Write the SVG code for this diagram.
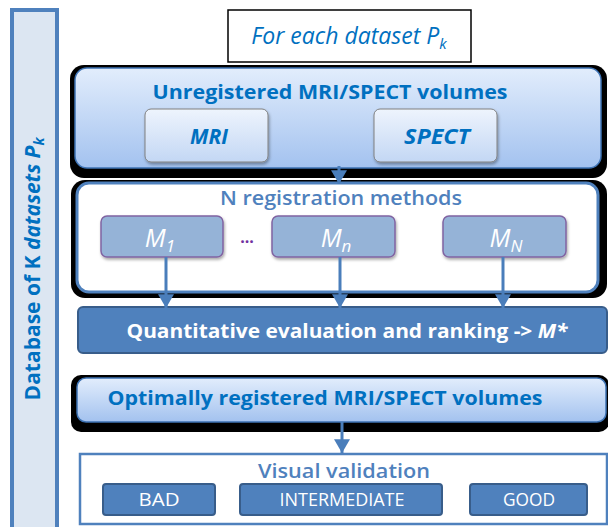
<svg xmlns="http://www.w3.org/2000/svg" width="608" height="527" viewBox="0 0 608 527">
<style>
.f{font-family:"Open Sans","Liberation Sans",sans-serif}
.t1{fill:#0070c0;font-weight:bold}
.t2{fill:#4f81bd;font-weight:600}
.wh{fill:#ffffff}
.shadow{fill:#000000}
.grad{fill:url(#g1);stroke:#3e73b4;stroke-width:1.5}
.inner{fill:url(#g2);stroke:#808080;stroke-width:1}
.mbox{fill:#95b3d7;stroke:#8064a2;stroke-width:1.5}
.dark{fill:#4f81bd;stroke:#385d8a;stroke-width:2}
.conn{stroke:#4a7ebb;stroke-width:3;fill:none}
</style>
<defs>
<linearGradient id="g1" x1="0" y1="0" x2="0" y2="1">
<stop offset="0" stop-color="#e2edfc"/>
<stop offset="1" stop-color="#a3c2ef"/>
</linearGradient>
<linearGradient id="g2" x1="0" y1="0" x2="0" y2="1">
<stop offset="0" stop-color="#eef4fd"/>
<stop offset="1" stop-color="#c3d7f4"/>
</linearGradient>
<filter id="ds" x="-10%" y="-10%" width="130%" height="140%">
<feDropShadow dx="1" dy="2" stdDeviation="1.5" flood-color="#000" flood-opacity="0.35"/>
</filter>
<marker id="ah" markerUnits="userSpaceOnUse" markerWidth="14" markerHeight="16" refX="12" refY="7" orient="auto" viewBox="0 0 12 14">
<path d="M0,0 L12,7 L0,14 Z" fill="#4a7ebb"/>
</marker>
</defs>

<g id="database">
<rect x="12" y="10" width="45" height="520" fill="#dce6f2" stroke="#4f81bd" stroke-width="4"/>
<text class="f t1" font-size="21" transform="translate(40,269) rotate(-90)" text-anchor="middle">Database of K <tspan font-style="italic">datasets P</tspan><tspan font-style="italic" font-size="14" dy="4">k</tspan></text>
</g>

<g id="foreach">
<rect x="228" y="10" width="243" height="52" fill="#ffffff" stroke="#000000" stroke-width="1.5"/>
<text class="f" fill="#0070c0" font-style="italic" font-size="23" x="349" y="44" text-anchor="middle">For each dataset P<tspan font-size="15" dy="5">k</tspan></text>
</g>

<g id="unregistered">
<rect class="shadow" x="70" y="65" width="537" height="113" rx="14"/>
<rect class="grad" x="75" y="68" width="526" height="100" rx="12"/>
<text class="f t1" font-size="20" x="330" y="99" text-anchor="middle" textLength="355" lengthAdjust="spacingAndGlyphs">Unregistered MRI/SPECT volumes</text>
</g>
<g id="mri">
<rect class="inner" x="145" y="109" width="123" height="53" rx="6" filter="url(#ds)"/>
<text class="f t1" font-style="italic" font-size="21" x="209" y="144" text-anchor="middle">MRI</text>
</g>
<g id="spect">
<rect class="inner" x="374" y="109" width="123" height="53" rx="6" filter="url(#ds)"/>
<text class="f t1" font-style="italic" font-size="21" x="437" y="144" text-anchor="middle" textLength="66" lengthAdjust="spacingAndGlyphs">SPECT</text>
</g>

<g id="methods">
<rect class="shadow" x="71" y="180" width="536" height="118" rx="14"/>
<rect x="77" y="183" width="521" height="109" rx="12" fill="#ffffff" stroke="#4f81bd" stroke-width="3"/>
<text class="f t2" font-size="20" x="341" y="205" text-anchor="middle" textLength="242" lengthAdjust="spacingAndGlyphs">N registration methods</text>
<text class="f" fill="#7030a0" font-weight="bold" font-size="16" x="247" y="243" text-anchor="middle">...</text>
</g>
<g id="m1">
<rect class="mbox" x="101" y="216" width="122" height="41" rx="6" filter="url(#ds)"/>
<text class="f wh" font-style="italic" font-size="25" x="160" y="247" text-anchor="middle">M<tspan font-size="17" dy="5">1</tspan></text>
</g>
<g id="mn">
<rect class="mbox" x="272" y="216" width="123" height="41" rx="6" filter="url(#ds)"/>
<text class="f wh" font-style="italic" font-size="25" x="336" y="247" text-anchor="middle">M<tspan font-size="17" dy="5">n</tspan></text>
</g>
<g id="mN">
<rect class="mbox" x="443" y="216" width="123" height="41" rx="6" filter="url(#ds)"/>
<text class="f wh" font-style="italic" font-size="25" x="506" y="247" text-anchor="middle">M<tspan font-size="17" dy="5">N</tspan></text>
</g>

<g id="quantitative">
<rect class="dark" x="78" y="307" width="529" height="46" rx="5"/>
<text class="f wh" font-weight="bold" font-size="20" x="347" y="338" text-anchor="middle" textLength="441" lengthAdjust="spacingAndGlyphs">Quantitative evaluation and ranking -&gt; <tspan font-style="italic">M*</tspan></text>
</g>

<g id="optimal">
<rect class="shadow" x="71" y="375" width="538" height="57" rx="10"/>
<rect class="grad" x="77" y="378" width="529" height="44" rx="9"/>
<text class="f t1" font-size="20" x="325" y="405" text-anchor="middle" textLength="435" lengthAdjust="spacingAndGlyphs">Optimally registered MRI/SPECT volumes</text>
</g>

<g id="visual">
<rect x="80" y="454" width="527" height="70" fill="#ffffff" stroke="#4f81bd" stroke-width="2.5"/>
<text class="f t2" font-size="20" x="344" y="478" text-anchor="middle" textLength="172" lengthAdjust="spacingAndGlyphs">Visual validation</text>
</g>
<g id="bad">
<rect class="dark" x="103" y="484" width="112" height="31" rx="3"/>
<text class="f wh" font-size="18" x="159" y="506" text-anchor="middle" textLength="41" lengthAdjust="spacingAndGlyphs">BAD</text>
</g>
<g id="intermediate">
<rect class="dark" x="240" y="484" width="202" height="31" rx="3"/>
<text class="f wh" font-size="18" x="342" y="506" text-anchor="middle" textLength="125" lengthAdjust="spacingAndGlyphs">INTERMEDIATE</text>
</g>
<g id="good">
<rect class="dark" x="470" y="484" width="117" height="31" rx="3"/>
<text class="f wh" font-size="18" x="529" y="506" text-anchor="middle" textLength="52" lengthAdjust="spacingAndGlyphs">GOOD</text>
</g>

<g id="connectors">
<line class="conn" x1="339" y1="166" x2="339" y2="184" marker-end="url(#ah)"/>
<line class="conn" x1="166" y1="257" x2="166" y2="308" marker-end="url(#ah)"/>
<line class="conn" x1="340" y1="257" x2="340" y2="308" marker-end="url(#ah)"/>
<line class="conn" x1="503" y1="257" x2="503" y2="308" marker-end="url(#ah)"/>
<line class="conn" x1="342" y1="422" x2="342" y2="453" marker-end="url(#ah)"/>
</g>
</svg>
